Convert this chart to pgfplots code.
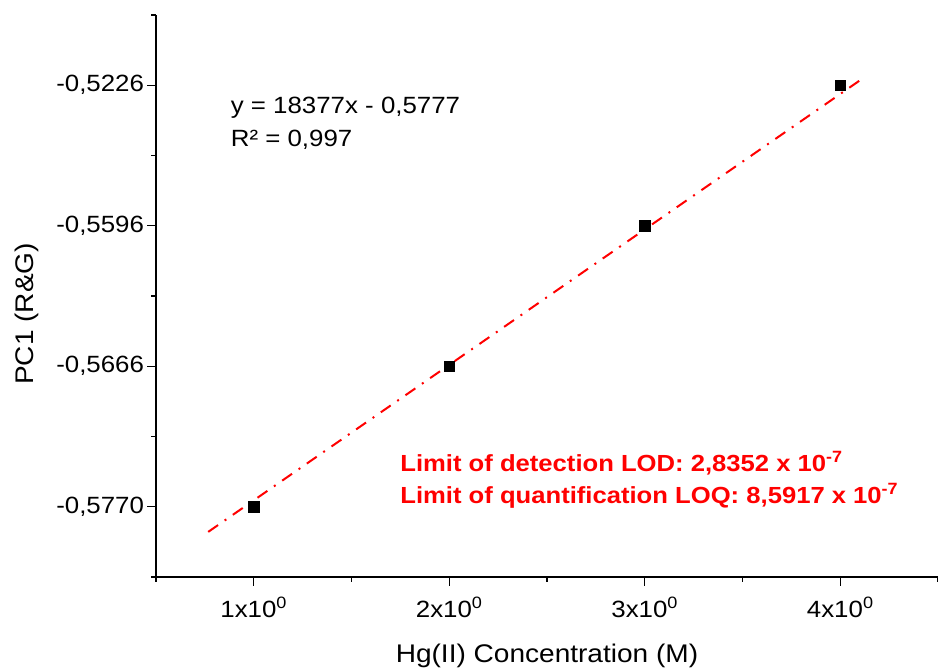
\documentclass[border=0pt]{standalone}
\usepackage{pgfplots}
\pgfplotsset{compat=1.18}
\usepackage{fontspec}
\setmainfont{Liberation Sans}[FakeStretch=1.1]
\begin{document}
\begin{tikzpicture}
\begin{axis}[
  scale only axis, width=782bp, height=562bp,
  xmin=0.5, xmax=4.5, ymin=0.5, ymax=4.5,
  axis x line=bottom, axis y line=left,
  axis line style={-, line width=1.4bp},
  xtick={1,2,3,4},
  xticklabels={1x10\textsuperscript{0},2x10\textsuperscript{0},3x10\textsuperscript{0},4x10\textsuperscript{0}},
  minor xtick={0.5,1.5,2.5,3.5,4.5},
  ytick={1,2,3,4},
  yticklabels={{-0,5770},{-0,5666},{-0,5596},{-0,5226}},
  minor ytick={0.5,1.5,2.5,3.5,4.5},
  tick align=outside,
  major tick length=8.5bp, minor tick length=4.5bp,
  every tick/.style={black, line width=1.4bp},
  tick label style={font=\fontsize{23.5bp}{28bp}\selectfont},
  xticklabel style={anchor=base, yshift=-32bp},
  yticklabel style={anchor=east},
  xlabel={Hg(II) Concentration (M)},
  ylabel={PC1 (R\&G)},
  every axis x label/.style={at={(axis description cs:0.5,-0.153)}, anchor=base, font=\fontsize{25.5bp}{30bp}\selectfont},
  every axis y label/.style={at={(axis description cs:-0.165,0.468)}, anchor=center, rotate=90, font=\fontsize{25.5bp}{30bp}\selectfont},
  clip=false,
]
\addplot[red, line width=2bp, dash pattern=on 12bp off 8bp on 2bp off 8bp] coordinates {(0.767,0.821) (4.106,4.040)};
\addplot[only marks, mark=square*, mark size=5.3bp, black] coordinates {(1,1) (2,2) (3,3) (4,4)};
\node[anchor=base west, inner sep=0pt, font=\fontsize{23.5bp}{27bp}\selectfont] at (axis cs:0.882,3.80) {y = 18377x - 0,5777};
\node[anchor=base west, inner sep=0pt, font=\fontsize{23.5bp}{27bp}\selectfont] at (axis cs:0.882,3.564) {R² = 0,997};
\node[anchor=base west, inner sep=0pt, red, font=\bfseries\fontsize{23.3bp}{27bp}\selectfont] at (axis cs:1.749,1.25) {Limit of detection LOD: 2,8352 x 10\textsuperscript{-7}};
\node[anchor=base west, inner sep=0pt, red, font=\bfseries\fontsize{23.3bp}{27bp}\selectfont] at (axis cs:1.749,1.021) {Limit of quantification LOQ: 8,5917 x 10\textsuperscript{-7}};
\end{axis}
\pgfresetboundingbox
\path ([shift={(-156bp,-93bp)}]current axis.south west) rectangle ([shift={(0bp,15bp)}]current axis.north east);
\end{tikzpicture}
\end{document}
